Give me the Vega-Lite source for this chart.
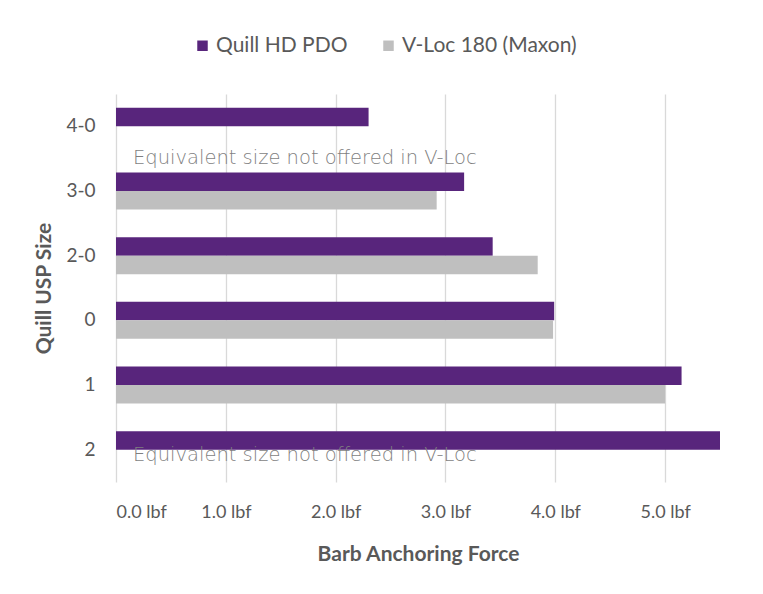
{
  "$schema": "https://vega.github.io/schema/vega-lite/v6.json",
  "autosize": {"type": "none"},
  "width": 604,
  "height": 388,
  "padding": {"left": 116, "top": 94, "right": 43, "bottom": 112},
  "background": "white",
  "config": {
    "view": {"stroke": null},
    "font": "Lato"
  },
  "datasets": {
    "bars": [
      {"size": "4-0", "series": "Quill HD PDO", "force": 2.30},
      {"size": "3-0", "series": "Quill HD PDO", "force": 3.17},
      {"size": "3-0", "series": "V-Loc 180 (Maxon)", "force": 2.92},
      {"size": "2-0", "series": "Quill HD PDO", "force": 3.43},
      {"size": "2-0", "series": "V-Loc 180 (Maxon)", "force": 3.84},
      {"size": "0", "series": "Quill HD PDO", "force": 3.99},
      {"size": "0", "series": "V-Loc 180 (Maxon)", "force": 3.98},
      {"size": "1", "series": "Quill HD PDO", "force": 5.15},
      {"size": "1", "series": "V-Loc 180 (Maxon)", "force": 5.00},
      {"size": "2", "series": "Quill HD PDO", "force": 5.51}
    ],
    "notes": [
      {"size": "4-0", "note": "Equivalent size not offered in V-Loc"},
      {"size": "2", "note": "Equivalent size not offered in V-Loc"}
    ]
  },
  "layer": [
    {
      "data": {"name": "bars"},
      "mark": {"type": "bar", "clip": true},
      "encoding": {
        "y": {
          "field": "size",
          "type": "nominal",
          "sort": ["4-0", "3-0", "2-0", "0", "1", "2"],
          "scale": {"paddingInner": 0, "paddingOuter": 0},
          "axis": {
            "title": "Quill USP Size",
            "titleFont": "Lato",
            "titleFontSize": 21,
            "titleFontWeight": "bold",
            "titleColor": "#595959",
            "titlePadding": 11,
            "labelFont": "Lato",
            "labelFontSize": 19,
            "labelColor": "#595959",
            "labelPadding": 21,
            "ticks": false,
            "domain": false
          }
        },
        "yOffset": {
          "field": "series",
          "type": "nominal",
          "sort": ["Quill HD PDO", "V-Loc 180 (Maxon)"],
          "scale": {"paddingInner": 0, "paddingOuter": 0.75}
        },
        "x": {
          "field": "force",
          "type": "quantitative",
          "scale": {"domain": [0, 5.5], "nice": false},
          "axis": {
            "title": "Barb Anchoring Force",
            "titleFont": "Lato",
            "titleFontSize": 21,
            "titleFontWeight": "bold",
            "titleColor": "#595959",
            "titlePadding": 22,
            "labelFont": "Lato",
            "labelFontSize": 18,
            "labelColor": "#595959",
            "labelPadding": 21,
            "values": [0, 1, 2, 3, 4, 5],
            "labelExpr": "format(datum.value, '.1f') + ' lbf'",
            "ticks": false,
            "domain": false,
            "grid": true,
            "gridColor": "#D9D9D9",
            "gridWidth": 1.3
          }
        },
        "color": {
          "field": "series",
          "type": "nominal",
          "sort": ["Quill HD PDO", "V-Loc 180 (Maxon)"],
          "scale": {"domain": ["Quill HD PDO", "V-Loc 180 (Maxon)"], "range": ["#58257C", "#BFBFBF"]},
          "legend": {
            "title": null,
            "orient": "none",
            "direction": "horizontal",
            "legendX": 76,
            "legendY": -59,
            "symbolType": "square",
            "symbolSize": 110,
            "symbolStrokeWidth": 0,
            "labelFont": "Lato",
            "labelFontSize": 21,
            "labelColor": "#595959",
            "labelOffset": 3,
            "columnPadding": 30,
            "labelLimit": 300
          }
        }
      }
    },
    {
      "data": {"name": "notes"},
      "transform": [{"filter": "datum.size === '4-0'"}],
      "mark": {"type": "text", "align": "left", "baseline": "middle", "dx": 17, "dy": 32, "font": "DejaVu Sans", "fontSize": 19.5, "fontWeight": 200, "color": "#7F7F7F"},
      "encoding": {
        "y": {"field": "size", "type": "nominal", "sort": ["4-0", "3-0", "2-0", "0", "1", "2"]},
        "x": {"datum": 0, "type": "quantitative"},
        "text": {"field": "note"}
      }
    },
    {
      "data": {"name": "notes"},
      "transform": [{"filter": "datum.size === '2'"}],
      "mark": {"type": "text", "align": "left", "baseline": "middle", "dx": 17, "dy": 5, "font": "DejaVu Sans", "fontSize": 19.5, "fontWeight": 200, "color": "#7F7F7F"},
      "encoding": {
        "y": {"field": "size", "type": "nominal", "sort": ["4-0", "3-0", "2-0", "0", "1", "2"]},
        "x": {"datum": 0, "type": "quantitative"},
        "text": {"field": "note"}
      }
    }
  ]
}
